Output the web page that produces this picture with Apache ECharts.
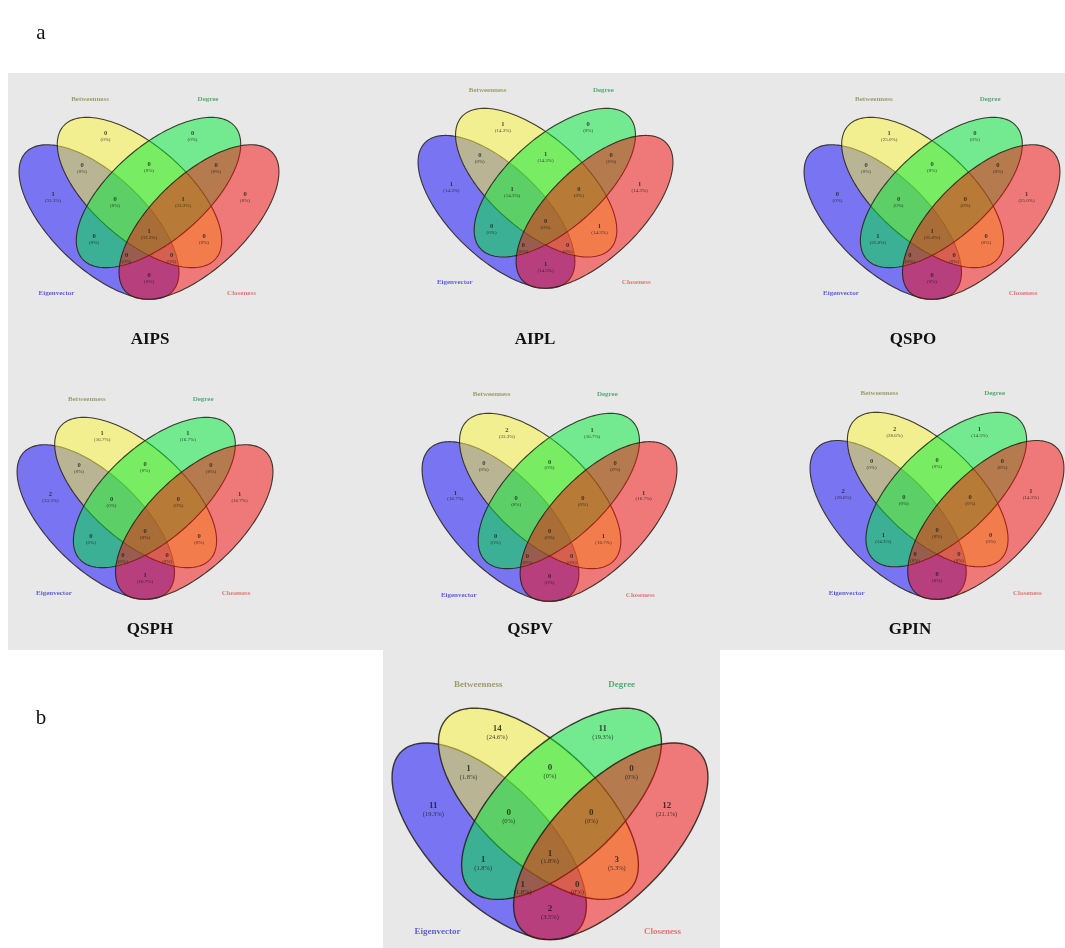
<!DOCTYPE html>
<html>
<head>
<meta charset="utf-8">
<script src="https://cdn.jsdelivr.net/npm/echarts@6/dist/echarts.min.js"></script>
<style>
  html, body { margin: 0; padding: 0; background: #fff; }
  #chart { width: 1065px; height: 948px; }
</style>
</head>
<body>
<div id="chart"></div>
<script>
// sets, in drawing order (E, B, D, C)
const setNames = ['Eigenvector', 'Betweenness', 'Degree', 'Closeness'];
// the 15 regions of the 4-set Venn: E=Eigenvector, B=Betweenness, D=Degree, C=Closeness
const regionKeys = ['E', 'B', 'D', 'C', 'EB', 'BD', 'DC', 'ED', 'BC', 'EC', 'EBD', 'BDC', 'EDC', 'EBC', 'EBDC'];
const panelNames = ['AIPS', 'AIPL', 'QSPO', 'QSPH', 'QSPV', 'GPIN'];

// counts per region (same order as regionKeys)
const countsAIPS = [1, 0, 0, 0, 0, 0, 0, 0, 0, 0, 0, 1, 0, 0, 1];
const countsAIPL = [1, 1, 0, 1, 0, 1, 0, 0, 1, 1, 1, 0, 0, 0, 0];
const countsQSPO = [0, 1, 0, 1, 0, 0, 0, 1, 0, 0, 0, 0, 0, 0, 1];
const countsQSPH = [2, 1, 1, 1, 0, 0, 0, 0, 0, 1, 0, 0, 0, 0, 0];
const countsQSPV = [1, 2, 1, 1, 0, 0, 0, 0, 1, 0, 0, 0, 0, 0, 0];
const countsGPIN = [2, 2, 1, 1, 0, 0, 0, 1, 0, 0, 0, 0, 0, 0, 0];
const countsAll  = [11, 14, 11, 12, 1, 0, 0, 1, 3, 2, 0, 0, 1, 0, 1];

const panelCounts = [countsAIPS, countsAIPL, countsQSPO, countsQSPH, countsQSPV, countsGPIN, countsAll];

// ---- layout: design box 260 x 181, y grows downward ----
const DESIGN_W = 260, DESIGN_H = 181;
const ELLIPSES = [
  { cx: 80,    cy: 105,  a: 101, b: 46.5, ang: 43.5 },
  { cx: 120.5, cy: 75.5, a: 101, b: 47,   ang: 41 },
  { cx: 139.5, cy: 75.5, a: 101, b: 47,   ang: 139 },
  { cx: 180,   cy: 105,  a: 101, b: 46.5, ang: 136.5 }
];
const REGION_POS = {
  E: [34, 80], B: [86.5, 19.5], D: [173.5, 19.5], C: [226, 80],
  EB: [63, 51], BD: [130, 50], DC: [197, 51],
  ED: [75, 122.5], BC: [185, 122.5], EC: [130, 161],
  EBD: [96, 85.5], BDC: [164, 85.5],
  EDC: [107.5, 141.5], EBC: [152.5, 141.5], EBDC: [130, 117.5]
};
const SET_LABEL_POS = [[37.5, 176], [71, -18], [189, -18], [222.5, 176]];
// measured extent of each panel's diagram: left, top, width, height (px)
const PANEL_BOX = [
  [19, 117, 260, 181], [418, 108, 255, 179], [804, 117, 256, 181],
  [17, 417, 256, 181], [422, 413, 255, 187], [810, 412, 254, 186],
  [392, 707.7, 316, 230.3]
];
const TITLE_POS = [[150, 340], [535, 340], [913, 340], [150, 630], [530, 630], [910, 630]];

const SET_FILL = ['rgba(10,0,250,0.5)', 'rgba(250,245,55,0.5)', 'rgba(0,235,55,0.5)', 'rgba(245,10,10,0.5)'];
const SET_TEXT = ['#3b3bd0', '#8c8a48', '#2f9a58', '#e05858'];
const SERIF = '"Liberation Serif", "DejaVu Serif", serif';

const chart = echarts.init(document.getElementById('chart'));

const grids = [], xAxes = [], yAxes = [], series = [];

PANEL_BOX.forEach((box, i) => {
  const big = i === 6;
  const counts = panelCounts[i];
  const total = counts.reduce((s, v) => s + v, 0);

  grids.push({ left: box[0], top: box[1], width: box[2], height: box[3], outerBoundsMode: 'none' });
  xAxes.push({ type: 'value', gridIndex: i, min: 0, max: DESIGN_W, show: false });
  yAxes.push({ type: 'value', gridIndex: i, min: 0, max: DESIGN_H, inverse: true, show: false });

  // ellipses
  series.push({
    type: 'custom',
    xAxisIndex: i,
    yAxisIndex: i,
    silent: true,
    clip: false,
    z: 2,
    data: setNames.map((n, k) => ({ name: n, value: [k, 0] })),
    renderItem: (params, api) => {
      const k = api.value(0);
      const e = ELLIPSES[k];
      const th = e.ang * Math.PI / 180;
      const pts = [];
      for (let s = 0; s < 180; s++) {
        const t = s / 180 * Math.PI * 2;
        const lx = e.a * Math.cos(t), ly = e.b * Math.sin(t);
        pts.push(api.coord([
          e.cx + lx * Math.cos(th) - ly * Math.sin(th),
          e.cy + lx * Math.sin(th) + ly * Math.cos(th)
        ]));
      }
      return {
        type: 'polygon',
        shape: { points: pts },
        style: { fill: SET_FILL[k], stroke: 'rgba(35,30,20,0.85)', lineWidth: big ? 1.4 : 1.1 }
      };
    }
  });

  // region counts
  series.push({
    type: 'scatter',
    xAxisIndex: i,
    yAxisIndex: i,
    silent: true,
    clip: false,
    z: 5,
    symbolSize: 1,
    itemStyle: { color: 'transparent' },
    data: regionKeys.map((key, j) => [REGION_POS[key][0], REGION_POS[key][1], counts[j]]),
    label: {
      show: true,
      position: 'inside',
      formatter: p => {
        const v = p.value[2];
        const pct = v === 0 ? '0%' : (v / total * 100).toFixed(1) + '%';
        return '{n|' + v + '}\n{p|(' + pct + ')}';
      },
      rich: {
        n: { fontFamily: SERIF, fontWeight: 'bold', fontSize: big ? 9 : 6.5, lineHeight: big ? 9 : 7, color: '#1a1a1a' },
        p: { fontFamily: SERIF, fontSize: big ? 6.5 : 5, lineHeight: big ? 7 : 5.5, color: '#1a1a1a' }
      }
    }
  });

  // set names
  series.push({
    type: 'scatter',
    xAxisIndex: i,
    yAxisIndex: i,
    silent: true,
    clip: false,
    z: 5,
    symbolSize: 1,
    itemStyle: { color: 'transparent' },
    data: setNames.map((n, k) => ({
      name: n,
      value: SET_LABEL_POS[k],
      label: { color: SET_TEXT[k] }
    })),
    label: {
      show: true,
      position: 'inside',
      formatter: '{b}',
      fontFamily: SERIF,
      fontWeight: 'bold',
      fontSize: big ? 9 : 7
    }
  });
});

const graphics = [
  { type: 'rect', z: -10, shape: { x: 8, y: 73, width: 1057, height: 577 }, style: { fill: '#e8e8e8' } },
  { type: 'rect', z: -10, shape: { x: 383, y: 650, width: 337, height: 298 }, style: { fill: '#e8e8e8' } },
  { type: 'text', z: 10, x: 41, y: 33, style: { text: 'a', font: '21px ' + SERIF, fill: '#111', textAlign: 'center', textVerticalAlign: 'middle' } },
  { type: 'text', z: 10, x: 41, y: 718, style: { text: 'b', font: '21px ' + SERIF, fill: '#111', textAlign: 'center', textVerticalAlign: 'middle' } }
];
panelNames.forEach((name, i) => {
  graphics.push({
    type: 'text', z: 10, x: TITLE_POS[i][0], y: TITLE_POS[i][1],
    style: { text: name, font: 'bold 17px ' + SERIF, fill: '#111', textAlign: 'center', textVerticalAlign: 'middle' }
  });
});

chart.setOption({
  animation: false,
  backgroundColor: '#fff',
  grid: grids,
  xAxis: xAxes,
  yAxis: yAxes,
  graphic: graphics,
  series: series
});
</script>
</body>
</html>
